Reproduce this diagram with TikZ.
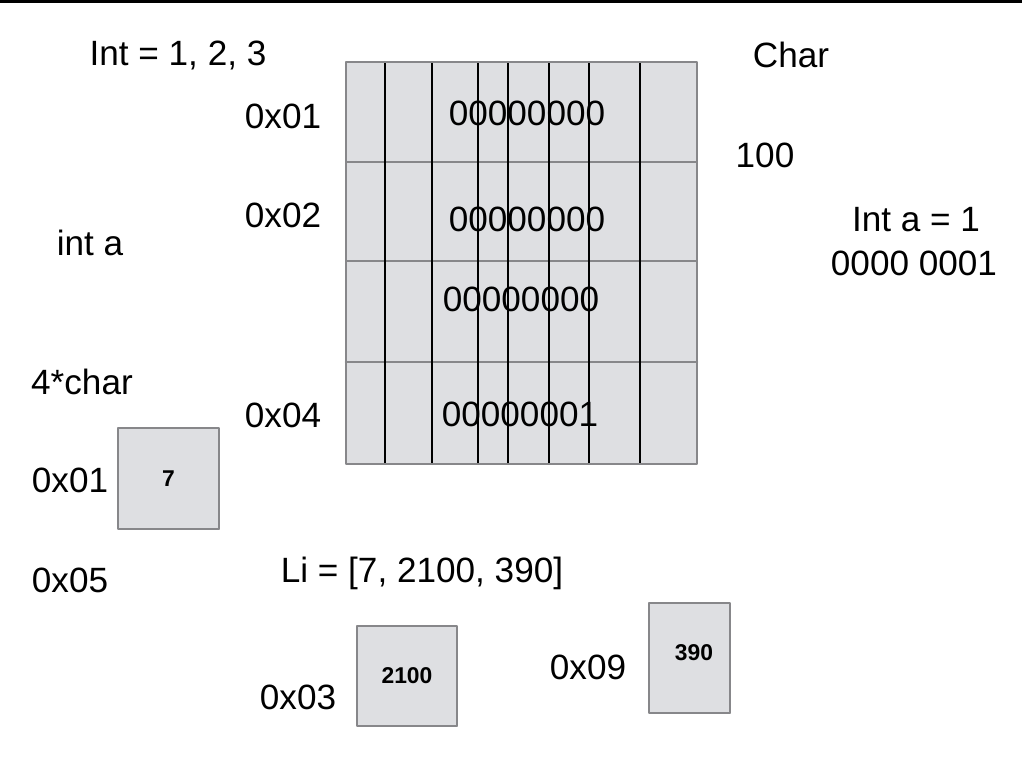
\documentclass[tikz,border=0pt]{standalone}
\usepackage{fontspec}
\setmainfont{Liberation Sans}
\usetikzlibrary{shadows}
\definecolor{cellfill}{RGB}{222,223,226}
\definecolor{cellline}{RGB}{135,135,138}
\begin{document}
\begin{tikzpicture}[x=0.02cm,y=-0.02cm,line join=round,line cap=round,
        lbl/.style={font=\fontsize{20}{24}\selectfont,inner sep=0pt},
        val/.style={font=\fontsize{13}{15}\selectfont\bfseries,inner sep=0pt},
        cell/.style={draw=cellline,fill=cellfill,line width=1.1pt,inner sep=0pt,
            drop shadow={shadow xshift=0.3pt,shadow yshift=-0.8pt,opacity=0.35}}]
                \useasboundingbox (0,0) rectangle (1022,768);
                \draw[line width=1.6pt,line cap=butt] (0,1.4) -- (1022,1.4);
                % memory grid
                \fill[cellfill] (346,62) rectangle (697,464);
                \foreach \y in {162,261} \draw[cellline,line width=0.8pt] (346,\y) -- (697,\y);
                \draw[cellline,line width=1.5pt] (346,362) -- (697,362);
                \foreach \x in {385,432,478,508,549,589,640} \draw[line width=0.7pt] (\x,62) -- (\x,464);
                \draw[cellline,line width=0.9pt] (346,62) rectangle (697,464);
                \node[lbl] (bits1) at (527,113) {00000000};
                \node[lbl] (bits2) at (527,219) {00000000};
                \node[lbl] (bits3) at (521,299) {00000000};
                \node[lbl] (bits4) at (520,414) {00000001};
                % addresses and notes
                \node[lbl] (ints) at (178,55) {Int = 1, 2, 3};
                \node[lbl] (char) at (791,55) {Char};
                \node[lbl] (addr1) at (283,116) {0x01};
                \node[lbl] (addr2) at (283,215) {0x02};
                \node[lbl] (addr4) at (283,415) {0x04};
                \node[lbl] (hundred) at (765,155) {100};
                \node[lbl] (inta) at (916,220) {Int a = 1};
                \node[lbl] (binary) at (914,263) {0000 0001};
                \node[lbl] (decl) at (90,243) {int a};
                \node[lbl] (fourchar) at (82,382) {4*char};
                \node[lbl] (addr1b) at (70,480) {0x01};
                \node[lbl] (addr5) at (70,580) {0x05};
                \node[lbl] (list) at (422,573) {Li = [7, 2100, 390]};
                \node[lbl] (addr3) at (298,697) {0x03};
                \node[lbl] (addr9) at (588,667) {0x09};
                % list items
                \node[cell,minimum width=2.02cm,minimum height=2.02cm] (box7) at (168.5,478.5) {};
                \node[val] (v7) at (box7) {7};
                \node[cell,minimum width=2cm,minimum height=2cm] (box2100) at (407,676) {};
                \node[val] (v2100) at (box2100) {2100};
                \node[cell,minimum width=1.62cm,minimum height=2.2cm] (box390) at (689.5,658) {};
                \node[val] (v390) at (694,653) {390};
            \end{tikzpicture}
\end{document}
